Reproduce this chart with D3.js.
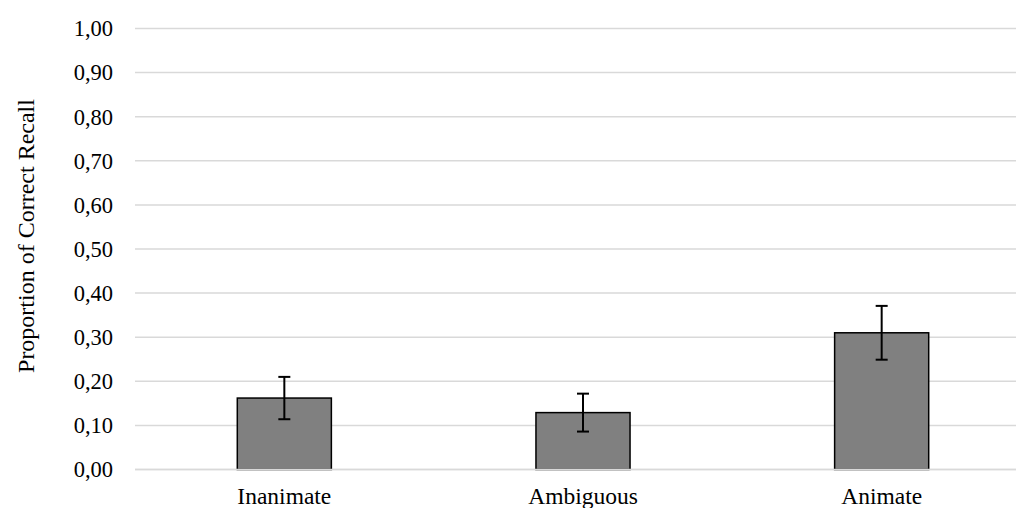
<!DOCTYPE html>
<html>
<head>
<meta charset="utf-8">
<script src="https://cdn.jsdelivr.net/npm/d3@7"></script>
<style>
	body { margin: 0; background: #fff; }
</style>
</head>
<body>
<div id="chartHolder"></div>
<script>
'use strict'
var categories = ["Inanimate", "Ambiguous", "Animate"];
var means = [0.162, 0.129, 0.310];
var errors = [0.048, 0.043, 0.061];
var yTicks = [0, 0.1, 0.2, 0.3, 0.4, 0.5, 0.6, 0.7, 0.8, 0.9, 1.0];
var yTitle = "Proportion of Correct Recall";

var fontFam = "'Liberation Serif', 'Times New Roman', Times, serif";
var w = 1016, h = 508;
var svg = d3.select("#chartHolder").append("svg")
	.attr("width", w).attr("height", h)
	.style("font-family", fontFam);

var x = d3.scaleBand()
	.domain(categories)
	.range([135, 1031])
	.paddingInner(0.685)
	.paddingOuter(0.3425);
var y = d3.scaleLinear().domain([0, 1]).range([469.5, 28.5]);

// gridlines
svg.append("g")
	.selectAll("line.grid")
	.data(yTicks)
	.enter().append("line")
	.attr("class", "grid")
	.attr("x1", 135).attr("x2", 1031)
	.attr("y1", function(d){ return y(d); })
	.attr("y2", function(d){ return y(d); })
	.style("stroke", "#d9d9d9")
	.style("stroke-width", 1.5);

// y tick labels
svg.append("g")
	.selectAll("text.ytick")
	.data(yTicks)
	.enter().append("text")
	.attr("class", "ytick")
	.attr("x", 113)
	.attr("y", function(d){ return y(d); })
	.attr("dy", "0.35em")
	.attr("text-anchor", "end")
	.style("font-size", "22.5px")
	.text(function(d){ return d.toFixed(2).replace(".", ","); });

// bars
var data = categories.map(function(c, i){ return {cat: c, mean: means[i], err: errors[i]}; });
svg.append("g")
	.selectAll("rect.bar")
	.data(data)
	.enter().append("rect")
	.attr("class", "bar")
	.attr("x", function(d){ return x(d.cat); })
	.attr("width", x.bandwidth())
	.attr("y", function(d){ return y(d.mean); })
	.attr("height", function(d){ return y(0) - y(d.mean); })
	.style("fill", "#808080")
	.style("stroke", "#000")
	.style("stroke-width", 1.5);

// zero line drawn over bar bottoms
svg.append("line")
	.attr("x1", 135).attr("x2", 1031)
	.attr("y1", y(0)).attr("y2", y(0))
	.style("stroke", "#d9d9d9")
	.style("stroke-width", 1.5);

// error bars
var eb = svg.append("g")
	.selectAll("g.err")
	.data(data)
	.enter().append("g")
	.attr("class", "err");
eb.append("line")
	.attr("x1", function(d){ return x(d.cat) + x.bandwidth() / 2; })
	.attr("x2", function(d){ return x(d.cat) + x.bandwidth() / 2; })
	.attr("y1", function(d){ return y(d.mean - d.err); })
	.attr("y2", function(d){ return y(d.mean + d.err); });
eb.append("line")
	.attr("x1", function(d){ return x(d.cat) + x.bandwidth() / 2 - 6; })
	.attr("x2", function(d){ return x(d.cat) + x.bandwidth() / 2 + 6; })
	.attr("y1", function(d){ return y(d.mean + d.err); })
	.attr("y2", function(d){ return y(d.mean + d.err); });
eb.append("line")
	.attr("x1", function(d){ return x(d.cat) + x.bandwidth() / 2 - 6; })
	.attr("x2", function(d){ return x(d.cat) + x.bandwidth() / 2 + 6; })
	.attr("y1", function(d){ return y(d.mean - d.err); })
	.attr("y2", function(d){ return y(d.mean - d.err); });
eb.selectAll("line")
	.style("stroke", "#000")
	.style("stroke-width", 2);

// x labels
svg.append("g")
	.selectAll("text.xlab")
	.data(categories)
	.enter().append("text")
	.attr("class", "xlab")
	.attr("x", function(d){ return x(d) + x.bandwidth() / 2; })
	.attr("y", 504)
	.attr("text-anchor", "middle")
	.style("font-size", "23.5px")
	.text(function(d){ return d; });

// y title
svg.append("text")
	.attr("transform", "translate(34,236) rotate(-90)")
	.attr("text-anchor", "middle")
	.style("font-size", "24px")
	.text(yTitle);
</script>
</body>
</html>
